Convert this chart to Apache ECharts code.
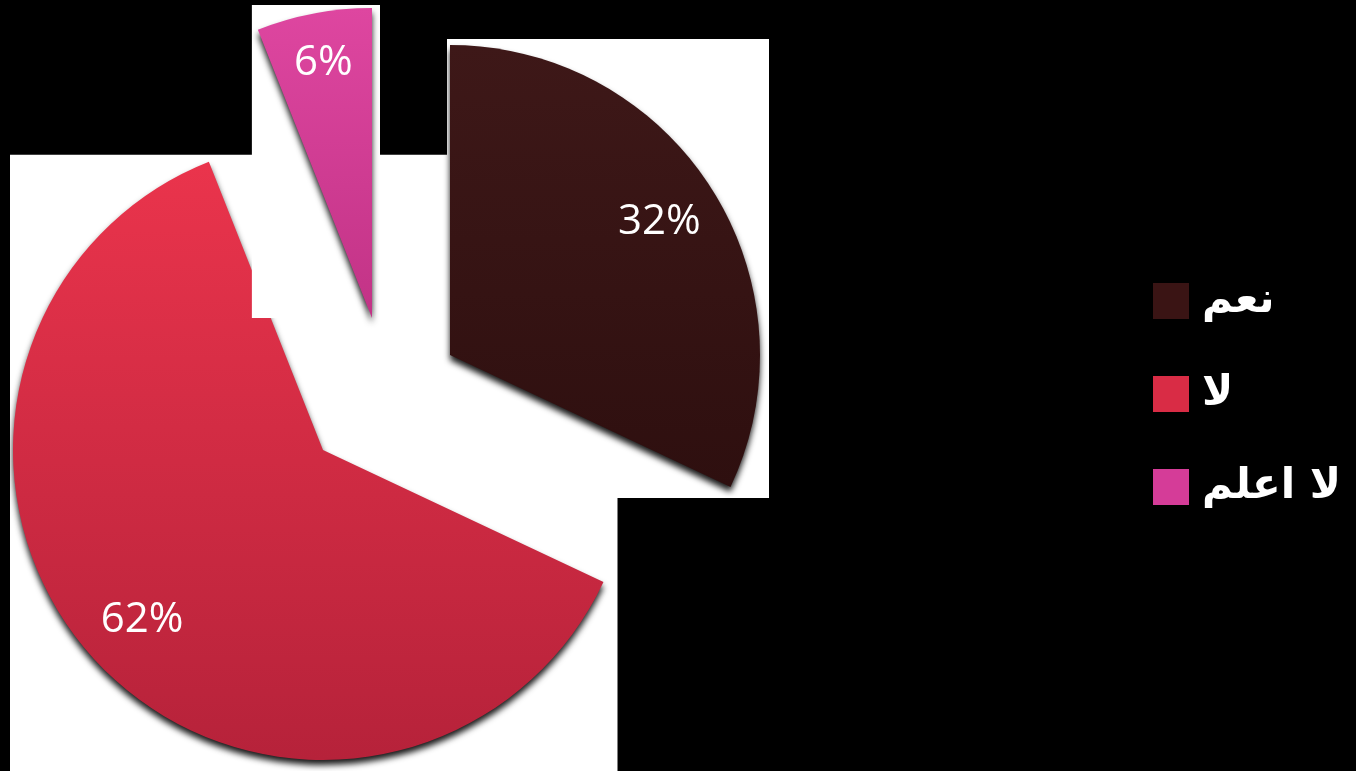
<!DOCTYPE html>
<html>
<head>
<meta charset="utf-8">
<script src="https://cdn.jsdelivr.net/npm/echarts@6/dist/echarts.min.js"></script>
<style>
html,body{margin:0;padding:0;background:#000;}
#c{width:1356px;height:771px;}
</style>
</head>
<body>
<div id="c"></div>
<script>
// ---- data ----
const categories = ['نعم', 'لا', 'لا اعلم'];
const values = [32, 62, 6];
const valueLabels = ['32%', '62%', '6%'];

// ---- styling / layout ----
const sliceColors = [
  ['#3e1818', '#2e0f0f'],
  ['#ea344c', '#b6223a'],
  ['#de46a0', '#c23386']
];
const legendColors = ['#3a1414', '#d92c45', '#d53c98'];
const centers = [[450, 355], [323, 450], [372, 318]];
const R = 310;
const labelFactor = [1.57, 1.57, 1.64];
const rectPad = [[3, 6, 9, 11], [3, 7, 14, 11], [6, 3, 8, 0]];
const zOrder = [6, 2, 4];

function sliceBox(i) {
  const total = values.reduce((a, b) => a + b, 0);
  let acc = 0;
  for (let j = 0; j < i; j++) acc += values[j];
  const a0 = -Math.PI / 2 + acc / total * Math.PI * 2;
  const a1 = a0 + values[i] / total * Math.PI * 2;
  const cx = centers[i][0], cy = centers[i][1];
  const pts = [[cx, cy], [cx + R * Math.cos(a0), cy + R * Math.sin(a0)], [cx + R * Math.cos(a1), cy + R * Math.sin(a1)]];
  for (let k = -1; k <= 4; k++) {
    const a = k * Math.PI / 2;
    if (a > a0 && a < a1) pts.push([cx + R * Math.cos(a), cy + R * Math.sin(a)]);
  }
  const xs = pts.map(p => p[0]), ys = pts.map(p => p[1]);
  const p = rectPad[i];
  const x0 = Math.min(...xs) - p[0], y0 = Math.min(...ys) - p[1];
  const x1 = Math.max(...xs) + p[2], y1 = Math.max(...ys) + p[3];
  return { x: x0, y: y0, width: x1 - x0, height: y1 - y0 };
}

const series = [];
categories.forEach((name, i) => {
  const box = sliceBox(i);
  series.push({
    type: 'custom',
    coordinateSystem: 'none',
    z: zOrder[i] - 1,
    silent: true,
    data: [[0]],
    renderItem: function () {
      return { type: 'rect', shape: box, style: { fill: '#ffffff' } };
    }
  });
  series.push({
    type: 'pie',
    z: zOrder[i],
    center: centers[i],
    radius: R,
    startAngle: 90,
    clockwise: true,
    avoidLabelOverlap: false,
    emphasis: { disabled: true },
    label: {
      show: true,
      position: 'inside',
      formatter: p => valueLabels[p.dataIndex],
      color: '#ffffff',
      fontSize: 42,
      fontFamily: 'Open Sans'
    },
    labelLine: { show: false },
    labelLayout: function (p) {
      const c = centers[i];
      const lx = p.labelRect.x + p.labelRect.width / 2;
      const ly = p.labelRect.y + p.labelRect.height / 2;
      return {
        x: c[0] + (lx - c[0]) * labelFactor[i],
        y: c[1] + (ly - c[1]) * labelFactor[i],
        align: 'center',
        verticalAlign: 'middle'
      };
    },
    data: categories.map((n, j) => ({
      name: n,
      value: values[j],
      itemStyle: j === i ? {
        color: { type: 'linear', x: 0, y: 0, x2: 0, y2: 1,
          colorStops: [{ offset: 0, color: sliceColors[j][0] }, { offset: 1, color: sliceColors[j][1] }] },
        shadowBlur: 6,
        shadowColor: 'rgba(0,0,0,0.9)',
        shadowOffsetY: 5
      } : { color: 'transparent' },
      label: { show: j === i }
    }))
  });
});

const chart = echarts.init(document.getElementById('c'), null, { renderer: 'canvas' });
chart.setOption({
  backgroundColor: '#000000',
  animation: false,
  legend: {
    orient: 'vertical',
    left: 1153,
    top: 280,
    padding: 0,
    itemWidth: 36,
    itemHeight: 36,
    itemGap: 51,
    icon: 'rect',
    selectedMode: false,
    textStyle: {
      color: '#ffffff',
      fontSize: 42,
      fontWeight: 'bold',
      fontFamily: 'DejaVu Sans',
      lineHeight: 36,
      padding: [0, 0, 0, 8]
    },
    data: categories.map((n, j) => ({ name: n, itemStyle: { color: legendColors[j], borderWidth: 0, shadowBlur: 0 } }))
  },
  series: series
});
</script>
</body>
</html>
